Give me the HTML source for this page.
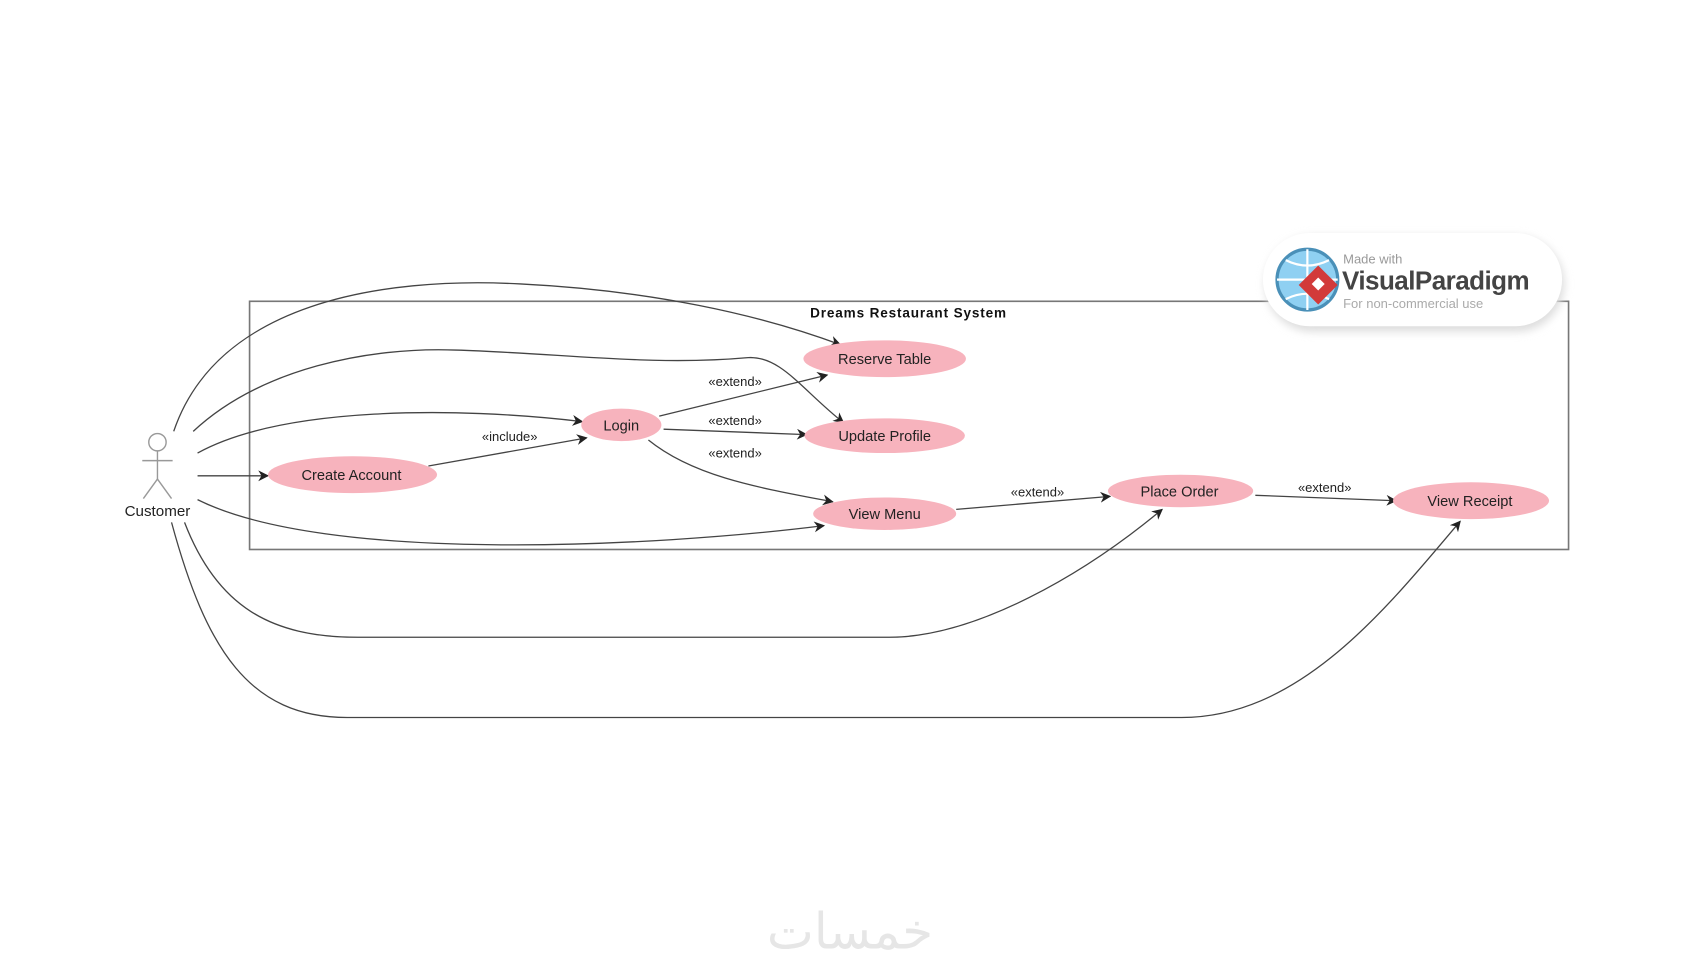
<!DOCTYPE html>
<html><head><meta charset="utf-8"><style>
html,body{margin:0;padding:0;background:#fff;}
svg{display:block;}
text{font-family:"Liberation Sans","DejaVu Sans",sans-serif;}
</style></head><body>
<svg width="1700" height="970" viewBox="0 0 1568 895" xmlns="http://www.w3.org/2000/svg">
<defs>
<marker id="a" markerWidth="12" markerHeight="12" refX="9" refY="5" orient="auto" markerUnits="userSpaceOnUse">
<path d="M0,0 L10,5 L0,10 L3,5 Z" fill="#222"/>
</marker>
<filter id="sh" x="-20%" y="-40%" width="140%" height="180%"><feGaussianBlur stdDeviation="4"/></filter>
</defs>
<rect width="1568" height="895" fill="#fff"/>
<rect x="230" y="278" width="1217" height="229" fill="#fff" stroke="#777" stroke-width="1.5"/>
<text x="838" y="293" font-size="12.5" font-weight="bold" text-anchor="middle" letter-spacing="0.8" fill="#111">Dreams Restaurant System</text>
<rect x="1167" y="218" width="276" height="88" rx="44" fill="#ddd" filter="url(#sh)"/>
<rect x="1165" y="215" width="276" height="86" rx="43" fill="#fff"/>
<circle cx="1206" cy="258" r="28" fill="#8fd0f2" stroke="#4a90b8" stroke-width="3"/>
<path d="M1178,258 H1234 M1206,230 V286 M1186,240 Q1206,250 1226,240 M1186,276 Q1206,266 1226,276" stroke="#fff" stroke-width="2" fill="none"/>
<path d="M1216,245 L1234,263 L1216,281 L1198,263 Z" fill="#d23a3a"/>
<path d="M1210,262 L1216,256 L1222,262 L1216,268 Z" fill="#fff"/>
<text x="1239" y="243" font-size="12" fill="#999">Made with</text>
<text x="1238" y="267" font-size="24" font-weight="bold" fill="#444" letter-spacing="-0.5">VisualParadigm</text>
<text x="1239" y="284" font-size="12" fill="#aaa">For non-commercial use</text>
<g stroke="#999" stroke-width="1.3" fill="#fff">
<circle cx="145" cy="408" r="8"/>
<line x1="145" y1="416" x2="145" y2="442"/>
<line x1="131" y1="425" x2="159" y2="425"/>
<line x1="145" y1="442" x2="132" y2="460"/>
<line x1="145" y1="442" x2="158" y2="460"/>
</g>
<text x="145" y="476" font-size="14" text-anchor="middle" fill="#222">Customer</text>
<g stroke="#444" stroke-width="1.2" fill="none" marker-end="url(#a)">
<path d="M160,398 C200,280 350,255 480,262 C600,268 700,290 775,318"/>
<path d="M178,398 C240,340 340,320 420,323 C520,326 600,338 690,330 C720,328 740,360 778,390"/>
<path d="M182,418 C260,375 420,375 537,389"/>
<path d="M182,439 L247,439"/>
<path d="M182,461 C300,520 600,505 760,485"/>
<path d="M170,482 C200,560 250,588 330,588 L820,588 C900,588 1000,530 1072,470"/>
<path d="M158,482 C190,600 230,662 320,662 L1090,662 C1200,662 1280,560 1347,481"/>
<path d="M395,430 L541,404"/>
<path d="M608,384 L763,346"/>
<path d="M612,396 L744,401"/>
<path d="M598,406 C640,440 700,450 768,463"/>
<path d="M882,470 L1024,458"/>
<path d="M1158,457 L1288,462"/>
</g>
<g font-size="12" fill="#222" text-anchor="middle">
<text x="470" y="407">«include»</text>
<text x="678" y="356">«extend»</text>
<text x="678" y="392">«extend»</text>
<text x="678" y="422">«extend»</text>
<text x="957" y="458">«extend»</text>
<text x="1222" y="454">«extend»</text>
</g>
<g fill="#f7b3bd">
<ellipse cx="816" cy="331" rx="75" ry="17"/>
<ellipse cx="816" cy="402" rx="74" ry="16"/>
<ellipse cx="573" cy="392" rx="37" ry="15"/>
<ellipse cx="325" cy="438" rx="78" ry="17"/>
<ellipse cx="816" cy="474" rx="66" ry="15"/>
<ellipse cx="1089" cy="453" rx="67" ry="15"/>
<ellipse cx="1357" cy="462" rx="72" ry="17"/>
</g>
<g font-size="13.5" fill="#222" text-anchor="middle">
<text x="816" y="336">Reserve Table</text>
<text x="816" y="407">Update Profile</text>
<text x="573" y="397">Login</text>
<text x="324" y="443">Create Account</text>
<text x="816" y="479">View Menu</text>
<text x="1088" y="458">Place Order</text>
<text x="1356" y="467">View Receipt</text>
</g>
<text x="784" y="875" font-size="46" fill="#e6e6e6" text-anchor="middle">خمسات</text>
</svg>
</body></html>
